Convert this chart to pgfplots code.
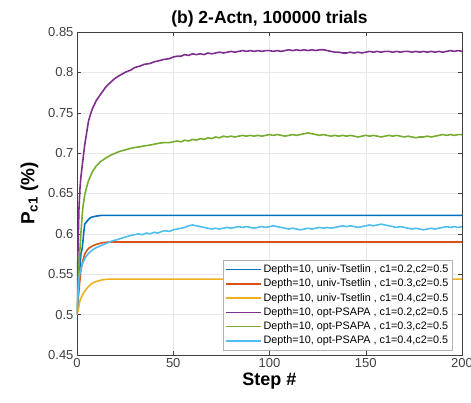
\documentclass[border=0pt]{standalone}
\usepackage{fontspec}
\setmainfont{Liberation Sans}
\usepackage{pgfplots}
\pgfplotsset{compat=1.18}
\definecolor{mblue}{rgb}{0,0.447,0.741}
\definecolor{morange}{rgb}{0.85,0.325,0.098}
\definecolor{myellow}{rgb}{0.929,0.694,0.125}
\definecolor{mpurple}{rgb}{0.494,0.184,0.556}
\definecolor{mgreen}{rgb}{0.466,0.674,0.188}
\definecolor{mcyan}{rgb}{0.301,0.745,0.933}
\definecolor{axgray}{rgb}{0.25,0.25,0.25}
\begin{document}
\begin{tikzpicture}
\useasboundingbox (-77pt,-47pt) rectangle (394pt,355pt);
\begin{axis}[
  at={(0,0)}, anchor=south west,
  scale only axis, width=385pt, height=323pt,
  xmin=0, xmax=200, ymin=0.45, ymax=0.85,
  xtick={0,50,100,150,200},
  ytick={0.45,0.5,0.55,0.6,0.65,0.7,0.75,0.8,0.85},
  yticklabels={0.45,0.5,0.55,0.6,0.65,0.7,0.75,0.8,0.85},
  /pgf/number format/assume math mode=true,
  tick label style={font=\fontsize{13}{15}\selectfont, text=axgray},
  tick align=inside, major tick length=4pt,
  tick style={axgray, line width=0.5pt},
  axis line style={axgray, line width=0.6pt},
  grid=major, major grid style={gray!18, line width=0.5pt},
  title={\textbf{(b) 2-Actn, 100000 trials}},
  title style={font=\fontsize{17.5}{20}\selectfont, yshift=-5pt},
  xlabel={\textbf{Step \#}},
  xlabel style={font=\fontsize{18}{20}\selectfont, yshift=2pt},
  ylabel={\textbf{P\textsubscript{c1} (\%)}},
  ylabel style={font=\fontsize{19}{21}\selectfont, yshift=3pt},
  legend cell align=left,
  legend style={at={(rel axis cs:0.974,0.015)}, anchor=south east,
    font=\fontsize{10.8}{12}\selectfont, draw=gray!60, fill=white,
    inner sep=2pt, row sep=0.3pt,
    nodes={inner sep=1.5pt, text height=8.5pt, text depth=2.5pt}},
  legend image code/.code={\draw[#1] (0pt,0pt) -- (35pt,0pt);},
  every axis plot/.append style={line width=1.6pt},
]
\addplot[mblue] coordinates {(0,0.5)(1,0.54)(2,0.575)(2.7,0.582)(3.5,0.601)(4,0.612)(5,0.615)(6,0.618)(7,0.620)(8,0.621)(10,0.622)(13,0.623)(200,0.623)};
\addlegendentry{Depth=10, univ-Tsetlin , c1=0.2,c2=0.5}
\addplot[morange] coordinates {(0,0.5)(1,0.53)(2,0.555)(3,0.566)(4,0.575)(5,0.579)(6,0.582)(8,0.585)(10,0.587)(13,0.589)(17,0.590)(200,0.590)};
\addlegendentry{Depth=10, univ-Tsetlin , c1=0.3,c2=0.5}
\addplot[myellow] coordinates {(0,0.5)(1,0.51)(1.5,0.517)(2,0.52)(3,0.525)(4,0.529)(5,0.532)(6,0.535)(8,0.539)(10,0.541)(13,0.543)(16,0.544)(200,0.544)};
\addlegendentry{Depth=10, univ-Tsetlin , c1=0.4,c2=0.5}
\addplot[mpurple] coordinates {(0,0.5)(0.5,0.58)(1,0.63)(1.5,0.655)(2,0.67)(3,0.69)(4,0.71)(5,0.725)(6,0.74)(7,0.748)(8,0.755)(10,0.765)(12,0.772)(15,0.782)(18,0.789)(20,0.793)(22,0.796)(25,0.800)(28,0.803)(30,0.806)(33,0.808)(35,0.810)(38,0.811)(40,0.813)(42,0.814)(45,0.816)(48,0.817)
(50,0.819)(52,0.820)(54,0.820)(56,0.822)(58,0.821)(60,0.823)(62,0.822)(64,0.823)(66,0.822)(68,0.824)(70,0.823)(72,0.824)(74,0.825)(76,0.824)(78,0.825)(80,0.826)(82,0.825)(84,0.826)(86,0.827)(88,0.826)(90,0.827)(92,0.826)(94,0.827)(96,0.826)(98,0.827)(100,0.827)(102,0.826)(104,0.827)(106,0.826)(108,0.827)(110,0.828)(112,0.827)(114,0.828)(116,0.827)(118,0.828)(120,0.827)(122,0.828)(124,0.827)(126,0.828)(128,0.828)(130,0.827)(132,0.826)(134,0.825)(136,0.825)(138,0.824)(140,0.824)(142,0.825)(144,0.824)(146,0.825)(148,0.824)(150,0.825)(152,0.826)(154,0.825)(156,0.826)(158,0.825)(160,0.826)(162,0.826)(164,0.825)(166,0.826)(168,0.825)(170,0.826)(172,0.826)(174,0.825)(176,0.826)(178,0.825)(180,0.826)(182,0.825)(184,0.826)(186,0.825)(188,0.826)(190,0.825)(192,0.826)(194,0.827)(196,0.826)(198,0.827)(200,0.826)};
\addlegendentry{Depth=10, opt-PSAPA , c1=0.2,c2=0.5}
\addplot[mgreen] coordinates {(0,0.5)(1,0.56)(2,0.6)(3,0.632)(4,0.648)(5,0.658)(6,0.666)(8,0.677)(10,0.684)(12,0.689)(15,0.694)(18,0.698)(20,0.700)(22,0.702)(25,0.704)(28,0.706)(30,0.707)(33,0.708)(35,0.709)(38,0.710)(40,0.711)(42,0.712)(45,0.713)(48,0.713)
(50,0.714)(52,0.715)(54,0.714)(56,0.716)(58,0.715)(60,0.717)(62,0.716)(64,0.718)(66,0.717)(68,0.719)(70,0.718)(72,0.720)(74,0.719)(76,0.721)(78,0.720)(80,0.721)(82,0.720)(84,0.721)(86,0.722)(88,0.721)(90,0.722)(92,0.721)(94,0.722)(96,0.721)(98,0.722)(100,0.723)(102,0.722)(104,0.723)(106,0.722)(108,0.721)(110,0.722)(112,0.723)(114,0.722)(116,0.723)(118,0.724)(120,0.725)(122,0.724)(124,0.723)(126,0.722)(128,0.723)(130,0.722)(132,0.721)(134,0.722)(136,0.721)(138,0.722)(140,0.721)(142,0.722)(144,0.721)(146,0.720)(148,0.721)(150,0.722)(152,0.721)(154,0.722)(156,0.721)(158,0.720)(160,0.721)(162,0.722)(164,0.721)(166,0.722)(168,0.721)(170,0.720)(172,0.721)(174,0.720)(176,0.719)(178,0.720)(180,0.720)(182,0.721)(184,0.720)(186,0.721)(188,0.722)(190,0.723)(192,0.722)(194,0.723)(196,0.722)(198,0.723)(200,0.723)};
\addlegendentry{Depth=10, opt-PSAPA , c1=0.3,c2=0.5}
\addplot[mcyan] coordinates {(0,0.5)(1,0.545)(2,0.557)(3,0.564)(4,0.569)(5,0.573)(6,0.576)(8,0.580)(10,0.583)(12,0.585)(15,0.588)(18,0.591)(21,0.593)(25,0.596)(28,0.598)
(30,0.599)(32,0.600)(34,0.599)(36,0.601)(38,0.600)(40,0.602)(42,0.601)(44,0.603)(46,0.604)(48,0.603)(50,0.605)(52,0.606)(54,0.607)(56,0.608)(58,0.610)(60,0.611)(62,0.610)(64,0.609)(66,0.608)(68,0.607)(70,0.606)(72,0.607)(74,0.606)(76,0.607)(78,0.608)(80,0.607)(82,0.608)(84,0.609)(86,0.608)(88,0.609)(90,0.608)(92,0.607)(94,0.608)(96,0.609)(98,0.608)(100,0.609)(102,0.610)(104,0.609)(106,0.608)(108,0.607)(110,0.606)(112,0.607)(114,0.606)(116,0.605)(118,0.606)(120,0.607)(122,0.606)(124,0.607)(126,0.608)(128,0.607)(130,0.608)(132,0.607)(134,0.608)(136,0.609)(138,0.610)(140,0.609)(142,0.610)(144,0.609)(146,0.608)(148,0.609)(150,0.610)(152,0.611)(154,0.610)(156,0.611)(158,0.612)(160,0.611)(162,0.610)(164,0.609)(166,0.608)(168,0.609)(170,0.608)(172,0.607)(174,0.606)(176,0.607)(178,0.606)(180,0.605)(182,0.606)(184,0.607)(186,0.606)(188,0.607)(190,0.608)(192,0.609)(194,0.608)(196,0.609)(198,0.608)(200,0.609)};
\addlegendentry{Depth=10, opt-PSAPA , c1=0.4,c2=0.5}
\end{axis}
\end{tikzpicture}
\end{document}
